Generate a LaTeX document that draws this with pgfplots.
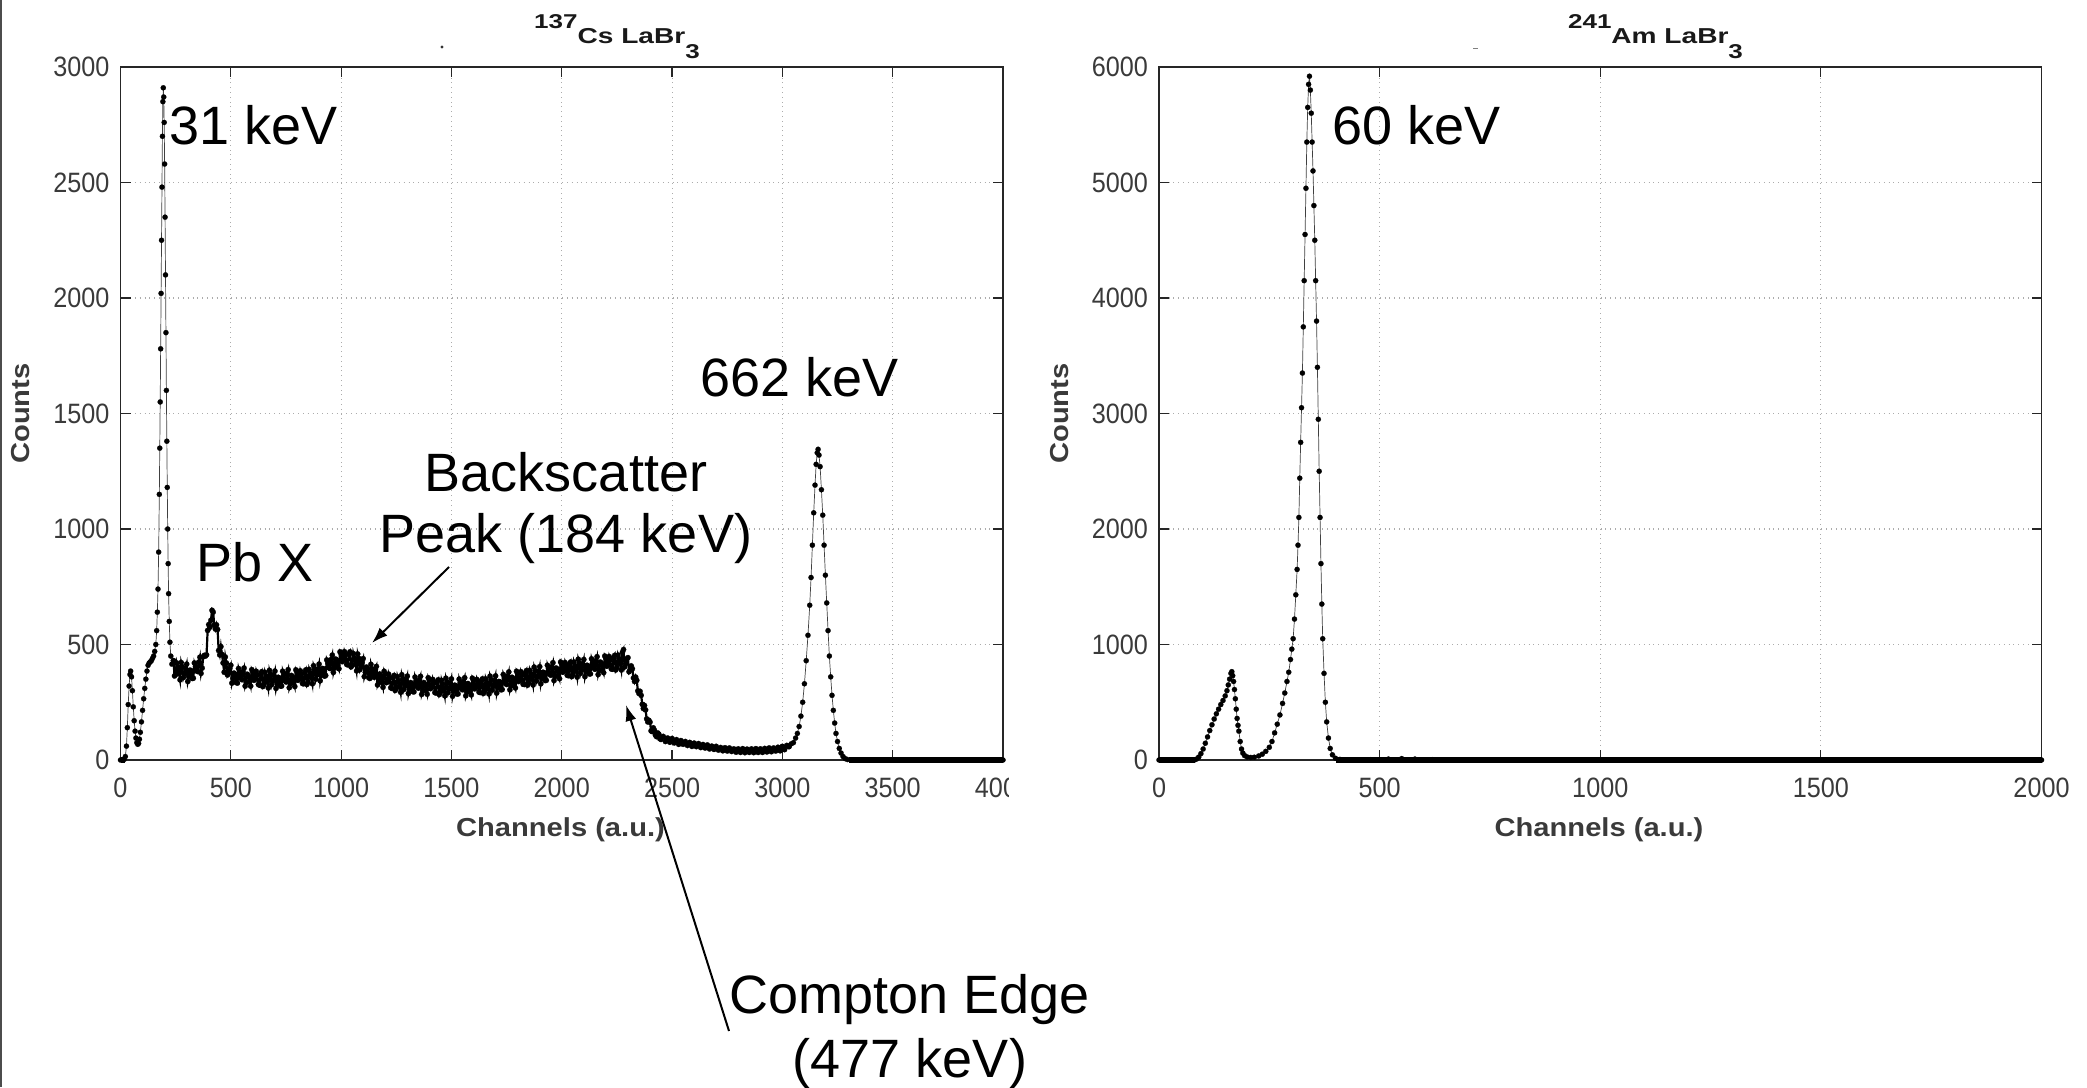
\documentclass[border=0pt]{standalone}
\usepackage{fontspec}
\setmainfont{Liberation Sans}
\newfontfamily\tickfont[FakeStretch=0.9]{Liberation Sans}
\newfontfamily\boldwide[FakeStretch=1.12]{Liberation Sans}
\newfontfamily\titlewide[FakeStretch=1.3]{Liberation Sans}
\usepackage{pgfplots}
\usepackage{pgfplotstable}
\pgfplotsset{compat=1.18}
\usetikzlibrary{arrows.meta}
\definecolor{axgray}{RGB}{38,38,38}
\definecolor{lblgray}{RGB}{58,58,58}

\pgfplotstableread{
x y
0 0
8 0
16 2
22 15
27 60
31 140
35 240
39 320
43 370
46 385
50 360
54 300
58 230
62 170
66 125
70 95
74 75
78 68
82 72
86 90
90 120
95 165
100 215
105 265
110 310
115 350
120 385
125 410
130 420
135 425
140 430
145 440
150 450
155 470
160 500
164 560
167 640
170 740
173 900
176 1150
178 1350
180 1550
182 1780
184 2020
186 2250
188 2480
190 2700
192 2850
194 2910
196 2870
198 2760
200 2580
202 2350
204 2100
206 1850
208 1600
210 1380
212 1180
214 1000
216 850
218 720
221 600
224 510
228 450
233 415
240 430
245 364
250 370
255 420
260 402
265 376
270 347
275 422
280 404
285 357
290 372
295 396
300 415
305 340
310 362
315 389
320 387
325 353
330 354
335 420
340 406
345 386
350 383
355 424
360 445
365 375
370 398
375 447
380 453
385 450
390 455
395 561
400 586
405 575
410 605
415 648
420 640
425 584
430 567
435 585
440 565
445 474
450 455
455 491
460 457
465 420
470 380
475 446
480 420
485 368
490 377
495 396
500 410
505 333
510 352
515 376
520 371
525 335
530 333
535 396
540 379
545 355
550 348
555 383
560 398
565 320
570 335
575 371
580 364
585 338
590 320
595 391
600 381
605 345
610 349
615 384
620 368
625 327
630 324
635 372
640 382
645 318
650 326
655 379
660 363
665 339
670 312
675 388
680 372
685 326
690 342
695 366
700 385
705 310
710 332
715 358
720 355
725 320
730 320
735 384
740 368
745 344
750 338
755 375
760 391
765 313
770 329
775 366
780 360
785 335
790 318
795 390
800 380
805 345
810 350
815 386
820 371
825 331
830 330
835 379
840 390
845 327
850 337
855 392
860 377
865 355
870 330
875 408
880 394
885 350
890 368
895 394
900 415
905 343
910 367
915 396
920 395
925 363
930 366
935 433
940 420
945 399
950 396
955 435
960 454
965 379
970 398
975 437
980 433
985 410
990 395
995 468
1000 460
1005 426
1010 432
1015 469
1020 455
1025 414
1030 412
1035 459
1040 468
1045 403
1050 410
1055 461
1060 442
1065 415
1070 386
1075 459
1080 440
1085 391
1090 403
1095 424
1100 439
1105 361
1110 379
1115 402
1120 395
1125 357
1130 353
1135 414
1140 394
1145 367
1150 358
1155 392
1160 405
1165 325
1170 338
1175 372
1180 363
1185 335
1190 315
1195 384
1200 372
1205 335
1210 338
1215 372
1220 355
1225 313
1230 310
1235 357
1240 366
1245 301
1250 309
1255 361
1260 344
1265 320
1270 293
1275 369
1280 352
1285 306
1290 321
1295 345
1300 363
1305 288
1310 309
1315 335
1320 331
1325 296
1330 295
1335 359
1340 342
1345 318
1350 311
1355 347
1360 362
1365 284
1370 299
1375 335
1380 328
1385 302
1390 285
1395 356
1400 345
1405 309
1410 314
1415 349
1420 333
1425 292
1430 290
1435 338
1440 347
1445 283
1450 292
1455 345
1460 328
1465 304
1470 278
1475 354
1480 338
1485 292
1490 308
1495 332
1500 351
1505 276
1510 298
1515 324
1520 321
1525 286
1530 286
1535 350
1540 334
1545 310
1550 304
1555 340
1560 356
1565 278
1570 294
1575 331
1580 325
1585 299
1590 282
1595 354
1600 344
1605 308
1610 313
1615 349
1620 334
1625 294
1630 292
1635 341
1640 351
1645 288
1650 297
1655 351
1660 335
1665 312
1670 286
1675 363
1680 348
1685 303
1690 319
1695 344
1700 364
1705 290
1710 313
1715 340
1720 338
1725 304
1730 305
1735 370
1740 355
1745 332
1750 327
1755 364
1760 381
1765 304
1770 321
1775 358
1780 353
1785 328
1790 312
1795 384
1800 375
1805 340
1810 346
1815 382
1820 368
1825 328
1830 327
1835 376
1840 387
1845 324
1850 334
1855 388
1860 373
1865 350
1870 325
1875 402
1880 387
1885 342
1890 359
1895 384
1900 404
1905 330
1910 353
1915 380
1920 378
1925 344
1930 345
1935 410
1940 395
1945 372
1950 367
1955 404
1960 421
1965 344
1970 361
1975 398
1980 393
1985 368
1990 352
1995 424
2000 415
2005 380
2010 386
2015 422
2020 407
2025 367
2030 365
2035 414
2040 424
2045 361
2050 370
2055 424
2060 408
2065 385
2070 359
2075 436
2080 420
2085 375
2090 391
2095 416
2100 435
2105 361
2110 383
2115 410
2120 407
2125 373
2130 373
2135 438
2140 422
2145 399
2150 393
2155 430
2160 447
2165 370
2170 387
2175 424
2180 419
2185 394
2190 378
2195 450
2200 441
2205 406
2210 412
2215 448
2220 434
2225 394
2230 393
2235 442
2240 453
2245 390
2250 400
2255 454
2260 439
2265 416
2270 390
2275 466
2280 478
2285 403
2290 417
2295 438
2300 443
2305 382
2310 390
2315 407
2320 395
2325 355
2330 340
2335 359
2340 345
2345 299
2350 288
2355 297
2360 280
2365 241
2370 223
2375 236
2380 217
2385 178
2390 165
2395 172
2400 164
2405 126
2410 123
2415 139
2420 129
2425 107
2430 101
2435 117
2440 112
2445 92
2450 89
2460 102
2470 80
2480 95
2490 77
2500 93
2510 74
2520 88
2530 68
2540 84
2550 68
2560 80
2570 63
2580 76
2590 59
2600 73
2610 58
2620 71
2630 54
2640 67
2650 52
2660 65
2670 48
2680 60
2690 46
2700 59
2710 43
2720 54
2730 40
2740 53
2750 39
2760 52
2770 37
2780 48
2790 34
2800 48
2810 33
2820 49
2830 32
2840 47
2850 33
2860 48
2870 32
2880 49
2890 33
2900 48
2910 33
2920 50
2930 35
2940 52
2950 36
2960 52
2970 39
2980 55
2990 40
3000 59
3010 45
3020 63
3030 58
3040 70
3050 75
3060 95
3068 115
3076 145
3084 190
3092 250
3100 330
3108 430
3116 540
3124 670
3130 790
3136 930
3142 1070
3148 1190
3153 1280
3158 1330
3162 1345
3166 1320
3171 1270
3177 1170
3183 1060
3189 930
3195 800
3201 680
3207 560
3213 450
3219 360
3225 280
3231 215
3237 160
3243 115
3250 80
3258 50
3266 30
3275 15
3285 6
3295 2
3310 0
3400 0
3500 0
3600 0
3700 0
3800 0
3900 0
4000 0
}\csdata

\pgfplotstableread{
x y
0 0
40 0
80 0
85 8
90 25
95 55
100 95
105 145
110 200
115 255
120 305
125 355
130 400
135 440
140 480
145 515
150 555
154 600
157 650
160 700
163 750
165 765
167 730
169 680
171 610
173 530
175 440
177 360
179 300
181 250
184 160
187 95
190 60
194 38
200 26
208 22
216 24
226 35
234 50
242 75
250 110
256 160
262 235
268 310
274 390
280 490
285 580
290 680
294 760
298 870
301 960
304 1050
307 1220
310 1430
313 1650
315 1860
317 2100
319 2440
321 2750
323 3050
325 3350
327 3750
329 4150
331 4550
333 4950
335 5350
337 5650
339 5850
341 5920
343 5800
345 5600
347 5350
349 5100
351 4800
353 4500
355 4150
357 3800
359 3400
361 2950
363 2500
365 2100
367 1700
369 1350
371 1050
374 750
377 500
380 330
384 190
388 100
393 45
400 15
410 5
420 2
440 0
480 3
520 8
550 12
580 8
620 3
700 0
800 0
1000 0
1200 0
1400 0
1600 0
1800 0
2000 0
}\amdata

\pgfplotsset{
  spec/.style={
    scale only axis, width=441.25pt, height=346.5pt,
    anchor=south west, clip=false,
    axis line style={axgray, line width=0.7pt},
    tick style={axgray, line width=0.6pt},
    major tick length=5pt,
    tick align=inside,
    grid=major,
    major grid style={gray!65, dotted, line width=0.55pt},
    scaled ticks=false,
    /pgf/number format/assume math mode=true,
    /pgf/number format/1000 sep={},
    ticklabel style={font=\tickfont\fontsize{14}{16}\selectfont, text=lblgray},
    xticklabel style={yshift=-5.3pt},
    yticklabel style={xshift=-2pt},
    xlabel={Channels (a.u.)},
    ylabel={Counts},
    label style={font=\boldwide\bfseries\fontsize{13}{15}\selectfont, text=lblgray},
    xlabel style={at={(axis description cs:0.4986,-0.1107)}, anchor=base},
    ylabel style={at={(axis description cs:-0.1128,0.5)}, anchor=center},
    title style={at={(axis description cs:0.5626,1)}, anchor=base, yshift=5.7pt,
      font=\titlewide\bfseries\fontsize{10.8}{12}\selectfont, text=black!90},
  },
  specline/.style={black!75, line width=0.35pt, mark=*, mark size=1.3pt,
    mark options={solid, fill=black, draw=black, line width=0.1pt}},
}

\begin{document}
\begin{tikzpicture}
\useasboundingbox (0,0) rectangle (1043.5pt,543.5pt);
\draw[black!70, line width=1.2pt] (0.6pt,0) -- (0.6pt,543.5pt);

\begin{axis}[spec, at={(60.25pt,163.5pt)},
  xmin=0, xmax=4000, ymin=0, ymax=3000,
  xtick={0,500,...,4000}, ytick={0,500,...,3000},
  title={\raisebox{7.6pt}{\fontsize{10}{11}\selectfont 137}Cs LaBr\raisebox{-7.3pt}{\fontsize{10}{11}\selectfont 3}}]
\addplot[specline, restrict x to domain=0:240] table {\csdata};
\addplot[specline, black, line width=1.1pt, mark size=1.35pt, restrict x to domain=240:3030] table {\csdata};
\addplot[specline, restrict x to domain=3030:4000] table {\csdata};
\addplot[black, line width=2.6pt, forget plot] coordinates {(0,0) (20,0)};
\addplot[black, line width=2.6pt, forget plot] coordinates {(3300,0) (4000,0)};
\end{axis}

\begin{axis}[spec, at={(579.5pt,163.5pt)},
  xmin=0, xmax=2000, ymin=0, ymax=6000,
  xtick={0,500,...,2000}, ytick={0,1000,...,6000},
  title={\raisebox{7.6pt}{\fontsize{10}{11}\selectfont 241}Am LaBr\raisebox{-7.3pt}{\fontsize{10}{11}\selectfont 3}}]
\addplot[specline] table {\amdata};
\addplot[black, line width=2.6pt, forget plot] coordinates {(0,0) (82,0)};
\addplot[black, line width=2.6pt, forget plot] coordinates {(400,0) (2000,0)};
\end{axis}

% clip of the last left tick label
\fill[white] (504.6pt,138pt) rectangle (520pt,159pt);

% small artefacts near titles
\fill[black!80] (221pt,520pt) circle (0.8pt);
\fill[gray] (736.5pt,518.8pt) rectangle ++(2.5pt,0.6pt);

% annotations
\begin{scope}[every node/.style={font=\fontsize{27}{32}\selectfont, inner sep=0pt}]
\node[anchor=base west] at (84.5pt,471pt) {31 keV};
\node[anchor=base west] at (350pt,345pt) {662 keV};
\node[anchor=base west] at (98pt,252.5pt) {Pb X};
\node[anchor=base] at (283pt,297.5pt) {Backscatter};
\node[anchor=base] at (283pt,267pt) {Peak (184 keV)};
\node[anchor=base] at (455pt,37pt) {Compton Edge};
\node[anchor=base] at (455pt,5pt) {(477 keV)};
\node[anchor=base west] at (666pt,471pt) {60 keV};
\end{scope}
\draw[black, line width=1pt, -{Latex[length=8pt,width=5.5pt]}] (224.5pt,260pt) -- (186pt,222pt);
\draw[black, line width=1pt, -{Latex[length=8pt,width=5.5pt]}] (364.5pt,28pt) -- (313pt,191pt);
\end{tikzpicture}
\end{document}
